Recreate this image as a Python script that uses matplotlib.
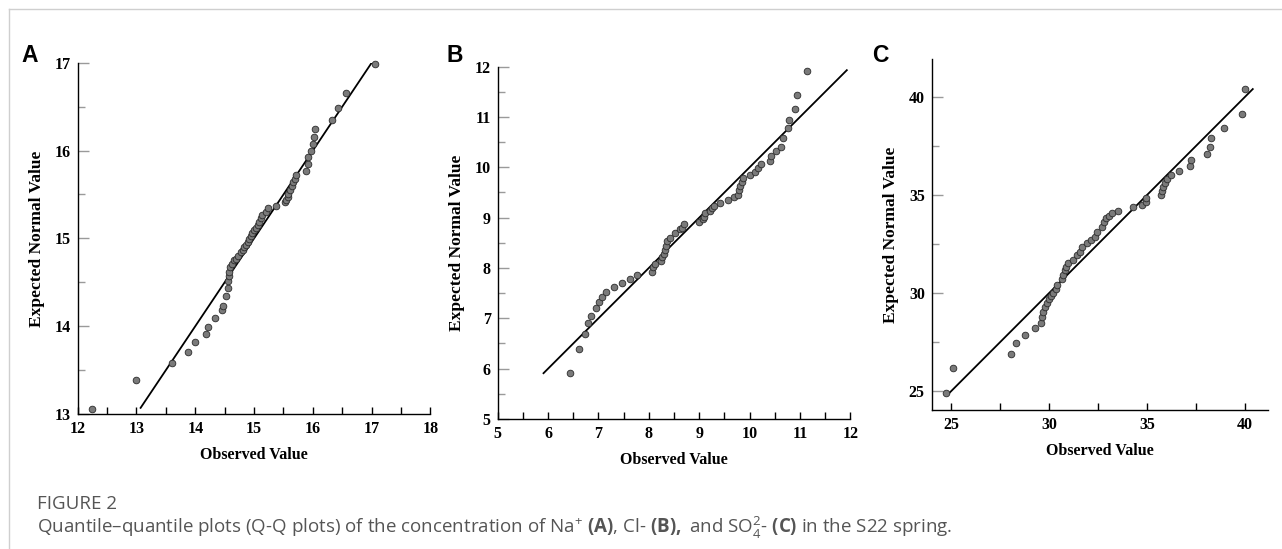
import matplotlib
matplotlib.use("Agg")
import matplotlib.pyplot as plt
from matplotlib.lines import Line2D
from matplotlib.ticker import MultipleLocator

# Na+ (A): observed vs expected normal value
na_obs = [12.24, 12.99, 13.61, 13.88, 14.00, 14.19, 14.22, 14.33, 14.45, 14.47,
          14.52, 14.55, 14.56, 14.58, 14.58, 14.59, 14.62, 14.65, 14.69, 14.73,
          14.77, 14.81, 14.83, 14.86, 14.89, 14.92, 14.94, 14.97, 15.00, 15.03,
          15.06, 15.09, 15.11, 15.13, 15.21, 15.24, 15.38, 15.52, 15.54, 15.57,
          15.58, 15.61, 15.65, 15.67, 15.69, 15.71, 15.88, 15.92, 15.92, 15.97,
          16.00, 16.02, 16.04, 16.33, 16.42, 16.56, 17.05]
na_exp = [13.06, 13.39, 13.58, 13.71, 13.82, 13.91, 13.99, 14.09, 14.18, 14.23,
          14.34, 14.43, 14.52, 14.57, 14.62, 14.67, 14.71, 14.75, 14.77, 14.80,
          14.84, 14.87, 14.90, 14.92, 14.96, 14.99, 15.03, 15.06, 15.09, 15.12,
          15.15, 15.19, 15.23, 15.27, 15.30, 15.34, 15.37, 15.41, 15.44, 15.47,
          15.51, 15.55, 15.60, 15.64, 15.68, 15.72, 15.77, 15.85, 15.93, 16.00,
          16.07, 16.15, 16.24, 16.35, 16.48, 16.66, 16.99]
na_line = [13.07, 17.0]

# Cl- (B)
cl_obs = [6.44, 6.62, 6.73, 6.79, 6.85, 6.95, 7.02, 7.08, 7.16, 7.30,
          7.47, 7.62, 7.77, 8.07, 8.08, 8.12, 8.24, 8.27, 8.31, 8.33,
          8.35, 8.37, 8.43, 8.52, 8.61, 8.66, 8.70, 9.00, 9.08, 9.10,
          9.11, 9.21, 9.25, 9.30, 9.41, 9.58, 9.70, 9.77, 9.79, 9.81,
          9.84, 9.86, 10.01, 10.10, 10.17, 10.23, 10.40, 10.42, 10.53, 10.62,
          10.66, 10.76, 10.79, 10.91, 10.95, 11.13]
cl_exp = [5.92, 6.40, 6.69, 6.90, 7.05, 7.20, 7.32, 7.42, 7.52, 7.62,
          7.70, 7.78, 7.86, 7.93, 8.01, 8.07, 8.14, 8.21, 8.28, 8.36,
          8.44, 8.53, 8.60, 8.69, 8.77, 8.79, 8.87, 8.91, 8.97, 9.02,
          9.09, 9.14, 9.19, 9.23, 9.29, 9.35, 9.42, 9.45, 9.54, 9.62,
          9.70, 9.78, 9.84, 9.91, 9.98, 10.06, 10.13, 10.23, 10.32, 10.41,
          10.58, 10.78, 10.94, 11.15, 11.43, 11.92]
cl_line = [5.91, 11.93]

# SO4 2- (C)
so4_obs = [24.74, 25.09, 28.05, 28.32, 28.78, 29.29, 29.59, 29.63, 29.68, 29.80,
           29.88, 30.00, 30.10, 30.22, 30.34, 30.39, 30.65, 30.73, 30.82, 30.87,
           30.99, 31.24, 31.41, 31.58, 31.68, 31.92, 32.14, 32.37, 32.44, 32.69,
           32.81, 32.89, 33.06, 33.20, 33.54, 34.30, 34.73, 34.98, 34.98, 35.73,
           35.78, 35.83, 35.92, 36.04, 36.22, 36.63, 37.23, 37.24, 38.07, 38.23,
           38.28, 38.94, 39.88, 40.00]
so4_exp = [24.88, 26.16, 26.89, 27.44, 27.84, 28.20, 28.49, 28.80, 29.05, 29.27,
           29.48, 29.68, 29.85, 30.02, 30.22, 30.41, 30.70, 30.92, 31.18, 31.35,
           31.52, 31.69, 31.95, 32.11, 32.37, 32.54, 32.71, 32.88, 33.14, 33.36,
           33.65, 33.82, 33.94, 34.07, 34.21, 34.38, 34.51, 34.67, 34.87, 35.01,
           35.21, 35.40, 35.61, 35.81, 36.02, 36.25, 36.51, 36.80, 37.10, 37.46,
           37.91, 38.41, 39.14, 40.40]
so4_line = [24.9, 40.42]

serif = "Liberation Serif"
W, H = 1282, 549

fig = plt.figure(figsize=(W / 100, H / 100), dpi=100)


def qq_panel(rect, obs, exp, line, xlim, ylim, major, minor, letter, letter_x):
    ax = fig.add_axes(rect)
    ax.plot(line, line, color="black", lw=1.3, zorder=2)
    ax.scatter(obs, exp, s=23, facecolor="#7a7a7a", edgecolor="#2b2b2b",
               linewidths=0.6, zorder=3, clip_on=False)
    ax.set_xlim(*xlim)
    ax.set_ylim(*ylim)
    for s in ["top", "right"]:
        ax.spines[s].set_visible(False)
    for s in ["left", "bottom"]:
        ax.spines[s].set_linewidth(1.0)
    ax.xaxis.set_major_locator(MultipleLocator(major))
    ax.xaxis.set_minor_locator(MultipleLocator(minor))
    ax.yaxis.set_major_locator(MultipleLocator(major))
    ax.yaxis.set_minor_locator(MultipleLocator(minor))
    ax.tick_params(axis="x", which="both", direction="in", color="black", width=1.0)
    ax.tick_params(axis="x", which="major", length=5, pad=5)
    ax.tick_params(axis="x", which="minor", length=5)
    ax.tick_params(axis="y", which="both", direction="in", color="#9a9a9a", width=1.0)
    ax.tick_params(axis="y", which="major", length=8, pad=5)
    ax.tick_params(axis="y", which="minor", length=5)
    for lab in ax.get_xticklabels() + ax.get_yticklabels():
        lab.set_fontfamily(serif)
        lab.set_fontweight("bold")
        lab.set_fontsize(11.5)
    ax.set_xlabel("Observed Value", fontfamily=serif, fontweight="bold", fontsize=11.5, labelpad=7)
    ax.set_ylabel("Expected Normal Value", fontfamily=serif, fontweight="bold", fontsize=12.5, labelpad=7)
    fig.text(letter_x / W, 1 - 44 / H, letter, fontfamily="Liberation Sans",
             fontweight="bold", fontsize=16.5, ha="left", va="top")
    return ax


qq_panel([0.0606, 0.2459, 0.2752, 0.6399], na_obs, na_exp, na_line,
         (12, 18), (13, 17), 1, 0.5, "A", 21)
qq_panel([0.3882, 0.2368, 0.2751, 0.6418], cl_obs, cl_exp, cl_line,
         (5, 12), (5, 12), 1, 0.5, "B", 446)
qq_panel([0.7268, 0.2532, 0.2623, 0.6388], so4_obs, so4_exp, so4_line,
         (24, 41.2), (24.03, 41.94), 5, 2.5, "C", 872)

# outer frame (top and left)
fig.add_artist(Line2D([9 / W, 1], [1 - 9 / H, 1 - 9 / H], transform=fig.transFigure,
                      color="#cfcfcf", lw=1))
fig.add_artist(Line2D([9 / W, 9 / W], [0, 1 - 9 / H], transform=fig.transFigure,
                      color="#cfcfcf", lw=1))

plt.rcParams["mathtext.fontset"] = "custom"
plt.rcParams["mathtext.rm"] = "Open Sans"
plt.rcParams["mathtext.bf"] = "Open Sans:bold"

fig.text(37 / W, 1 - 504 / H, "FIGURE 2", fontfamily="Open Sans", fontsize=13.5,
         color="#555555", va="center", ha="left")
caption = (r"Quantile–quantile plots (Q-Q plots) of the concentration of Na$^{+}$ "
           r"$\mathbf{(A)}$, Cl- $\mathbf{(B),}$ and SO$_{4}^{2}$- $\mathbf{(C)}$ in the S22 spring.")
fig.text(37 / W, 1 - 528 / H, caption, fontfamily="Open Sans", fontsize=13.5,
         color="#555555", va="center", ha="left")

fig.savefig("out.png", dpi=100)
